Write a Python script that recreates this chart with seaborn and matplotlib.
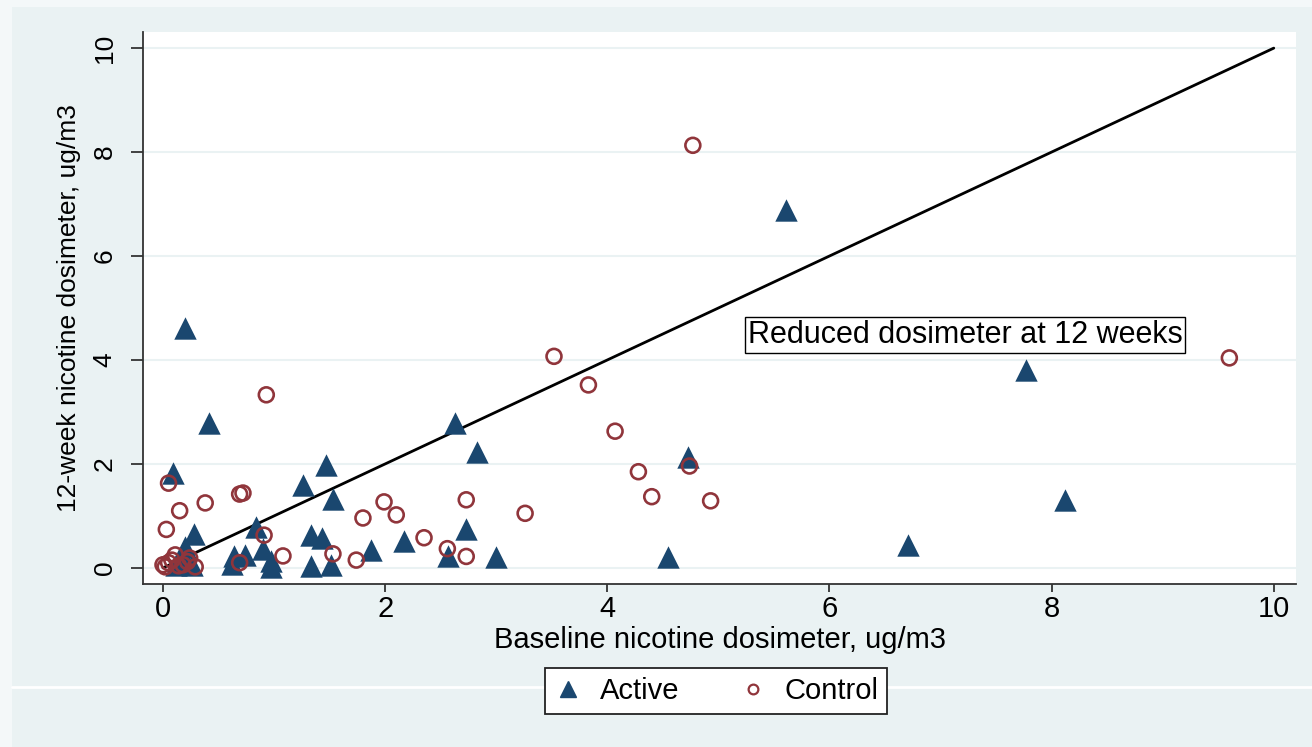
import matplotlib
matplotlib.use("Agg")
import matplotlib.pyplot as plt
import matplotlib.patches as mpatches
import matplotlib.lines as mlines
import pandas as pd
import seaborn as sns

# values (ug/m3)
active_x = [5.61, 0.20, 0.41, 2.63, 2.83, 4.73, 7.77, 8.12, 6.71, 4.55,
            0.09, 1.47, 1.26, 1.53, 2.73, 3.00, 2.17, 1.87, 0.28, 0.84,
            0.90, 0.97, 0.97, 1.33, 1.43, 1.33, 1.51, 2.57, 0.64, 0.74,
            0.62, 0.20, 0.18, 0.26, 0.12]
active_y = [6.88, 4.62, 2.79, 2.79, 2.23, 2.13, 3.81, 1.30, 0.44, 0.21,
            1.82, 1.98, 1.59, 1.33, 0.75, 0.21, 0.52, 0.35, 0.66, 0.78,
            0.36, 0.14, 0.02, 0.63, 0.58, 0.04, 0.06, 0.23, 0.22, 0.25,
            0.08, 0.40, 0.22, 0.05, 0.05]

control_x = [4.77, 9.60, 3.52, 3.83, 4.07, 0.93, 4.74, 4.28, 4.40, 4.93,
             0.05, 0.15, 0.38, 0.69, 0.72, 0.03, 0.91, 1.08, 0.69, 1.53,
             1.74, 1.80, 1.99, 2.10, 2.35, 2.56, 2.73, 2.73, 3.26,
             0.00, 0.02, 0.08, 0.11, 0.24, 0.29, 0.18, 0.05, 0.14, 0.22]
control_y = [8.13, 4.04, 4.07, 3.52, 2.63, 3.33, 1.96, 1.85, 1.37, 1.29,
             1.63, 1.10, 1.25, 1.42, 1.44, 0.74, 0.63, 0.23, 0.10, 0.27,
             0.15, 0.96, 1.27, 1.02, 0.58, 0.37, 0.22, 1.31, 1.05,
             0.06, 0.02, 0.15, 0.25, 0.19, 0.02, 0.06, 0.10, 0.04, 0.12]

ref_line = [0, 10]
ticks = [0, 2, 4, 6, 8, 10]

navy = '#1a476f'
maroon = '#90353b'
bg = '#eaf2f3'

sns.set_style('white')
plt.rcParams['font.family'] = ['Liberation Sans', 'DejaVu Sans']
plt.rcParams['text.color'] = 'black'
plt.rcParams['axes.labelcolor'] = 'black'
plt.rcParams['xtick.labelcolor'] = 'black'
plt.rcParams['ytick.labelcolor'] = 'black'

df_a = pd.DataFrame({'x': active_x, 'y': active_y})
df_c = pd.DataFrame({'x': control_x, 'y': control_y})

fig = plt.figure(figsize=(13.12, 7.47), dpi=100, facecolor='#f4f8f9')
W, H = 1312, 747
fig.patches.append(mpatches.Rectangle((12 / W, 0), 1 - 12 / W, 1 - 7 / H,
                                      transform=fig.transFigure,
                                      facecolor=bg, edgecolor='none', zorder=-2))
fig.lines.append(mlines.Line2D([12 / W, 1], [1 - 687 / H] * 2,
                               transform=fig.transFigure,
                               color='white', lw=2, zorder=-1))

ax = fig.add_axes([143 / W, 1 - 584 / H, (1296 - 143) / W, (584 - 32) / H])
ax.set_facecolor('white')

ax.plot(ref_line, ref_line, color='black', lw=2, zorder=3)
sns.scatterplot(data=df_a, x='x', y='y', ax=ax, marker='^', s=260,
                color=navy, edgecolor=navy, linewidth=0, zorder=4)
sns.scatterplot(data=df_c, x='x', y='y', ax=ax, marker='o', s=115,
                facecolor='none', edgecolor=maroon, linewidth=1.9, zorder=5)

ax.set_xlim(-0.18, 10.2)
ax.set_ylim(-0.31, 10.31)
ax.set_xticks(ticks)
ax.set_yticks(ticks)
ax.set_yticklabels([str(t) for t in ticks], rotation=90, va='center')
ax.yaxis.grid(True, color=bg, lw=1.5)
ax.xaxis.grid(False)
ax.set_axisbelow(True)

for s in ['top', 'right']:
    ax.spines[s].set_visible(False)
for s in ['left', 'bottom']:
    ax.spines[s].set_color('#333333')
    ax.spines[s].set_linewidth(1.3)

ax.tick_params(axis='x', direction='out', length=6, width=1.3, color='#333333',
               labelsize=21, pad=2, bottom=True)
ax.tick_params(axis='y', direction='out', length=9, width=1.3, color='#333333',
               labelsize=19, pad=10, left=True)

ax.set_xlabel('Baseline nicotine dosimeter, ug/m3', fontsize=21, labelpad=2)
ax.set_ylabel('12-week nicotine dosimeter, ug/m3', fontsize=19, labelpad=8)

ax.text(7.22, 4.48, 'Reduced dosimeter at 12 weeks', fontsize=22,
        ha='center', va='center', zorder=6,
        bbox=dict(boxstyle='square,pad=0.1', facecolor='white',
                  edgecolor='black', lw=1))

h_a = mlines.Line2D([], [], marker='^', color=navy, ls='none', markersize=11)
h_c = mlines.Line2D([], [], marker='o', markerfacecolor='none',
                    markeredgecolor=maroon, markeredgewidth=1.6,
                    ls='none', markersize=7)
leg = fig.legend([h_a, h_c], ['Active', 'Control'], loc='center',
                 bbox_to_anchor=(716 / W, 1 - 691 / H), ncol=2, fontsize=21,
                 frameon=True, fancybox=False, edgecolor='#222222', framealpha=1,
                 handlelength=1.0, handletextpad=0.6, columnspacing=2.0,
                 borderpad=0.3)
leg.get_frame().set_linewidth(1.3)

fig.savefig('out.png', dpi=100, facecolor=fig.get_facecolor())
